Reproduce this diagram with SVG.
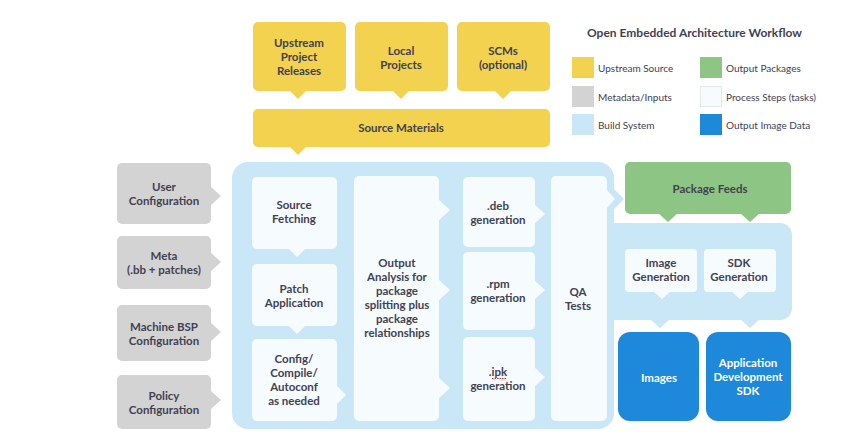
<svg xmlns="http://www.w3.org/2000/svg" width="858" height="446" viewBox="0 0 858 446">
<style>
text{font-family:Lato,"Open Sans","Liberation Sans",sans-serif;font-weight:700;font-size:11.5px;fill:#424152;text-anchor:middle}
.leg{font-size:10px;font-weight:400;text-anchor:start}
.ttl{font-size:12px;text-anchor:start}
.wt{fill:#ffffff}
.y{fill:#F2D24E}
.g{fill:#D3D3D3}
.lb{fill:#CAE7F7}
.w{fill:#F6FBFE}
.gr{fill:#8DC684}
.b{fill:#1E88DB}
</style>
<rect width="858" height="446" fill="#ffffff"/>

<g id="legend">
<text class="ttl" x="587" y="37">Open Embedded Architecture Workflow</text>
<rect class="y" x="572" y="57" width="22" height="21"/>
<rect class="g" x="572" y="86" width="22" height="21"/>
<rect class="lb" x="572" y="114" width="22" height="21"/>
<rect class="gr" x="700" y="57" width="22" height="21"/>
<rect class="w" x="700.5" y="86.5" width="21" height="20" stroke="#E3E8EB" stroke-width="1"/>
<rect class="b" x="700" y="114" width="22" height="21"/>
<text class="leg" x="598" y="72">Upstream Source</text>
<text class="leg" x="598" y="101">Metadata/Inputs</text>
<text class="leg" x="598" y="129">Build System</text>
<text class="leg" x="726" y="72">Output Packages</text>
<text class="leg" x="726" y="101">Process Steps (tasks)</text>
<text class="leg" x="726" y="129">Output Image Data</text>
</g>

<g id="build-system">
<rect class="lb" x="232" y="162" width="382" height="267" rx="16"/>
<rect class="lb" x="598" y="223" width="194" height="97" rx="12"/>
</g>

<g id="upstream-releases">
<rect class="y" x="253" y="22" width="93" height="69" rx="5"/>
<text x="299" y="47">Upstream</text><text x="299" y="61">Project</text><text x="299" y="75">Releases</text>
</g>
<g id="local-projects">
<rect class="y" x="355" y="22" width="93" height="69" rx="5"/>
<text x="401" y="55">Local</text><text x="401" y="69">Projects</text>
</g>
<g id="scms">
<rect class="y" x="457" y="22" width="93" height="69" rx="5"/>
<text x="503" y="55">SCMs</text><text x="503" y="69">(optional)</text>
</g>
<g id="source-materials">
<rect class="y" x="253" y="109" width="297" height="38" rx="5"/>
<text x="401" y="132">Source Materials</text>
</g>

<g id="user-config">
<rect class="g" x="117" y="163" width="94" height="61" rx="5"/>
<text x="164" y="191">User</text><text x="164" y="205">Configuration</text>
</g>
<g id="meta">
<rect class="g" x="117" y="236" width="94" height="53" rx="5"/>
<text x="164" y="260">Meta</text><text x="164" y="274">(.bb + patches)</text>
</g>
<g id="machine-bsp">
<rect class="g" x="117" y="305" width="94" height="56" rx="5"/>
<text x="164" y="331">Machine BSP</text><text x="164" y="345">Configuration</text>
</g>
<g id="policy-config">
<rect class="g" x="117" y="375" width="94" height="54" rx="5"/>
<text x="164" y="400">Policy</text><text x="164" y="414">Configuration</text>
</g>

<g id="connectors">
<polygon class="y" points="289,90 307,90 298,99"/>
<polygon class="y" points="392,90 410,90 401,99"/>
<polygon class="y" points="494,90 512,90 503,99"/>
<polygon class="y" points="289,146 307,146 298,155"/>
<polygon class="g" points="210,186 210,206 221,196"/>
<polygon class="g" points="210,252 210,272 221,262"/>
<polygon class="g" points="210,322 210,342 221,332"/>
<polygon class="g" points="210,390 210,410 221,400"/>
<polygon class="lb" points="613,188 613,210 624,199"/>
<polygon class="gr" points="658,213 678,213 668,222"/>
<polygon class="gr" points="740,213 760,213 750,222"/>
<polygon class="lb" points="650,319 670,319 660,328"/>
<polygon class="lb" points="740,319 760,319 750,328"/>
</g>

<g id="source-fetching">
<rect class="w" x="252" y="177" width="85" height="72" rx="5"/>
<polygon class="w" points="288,248 306,248 297,257"/>
<text x="294" y="209">Source</text><text x="294" y="223">Fetching</text>
</g>
<g id="patch-application">
<rect class="w" x="252" y="264" width="85" height="62" rx="5"/>
<polygon class="w" points="288,325 306,325 297,334"/>
<text x="294" y="293">Patch</text><text x="294" y="307">Application</text>
</g>
<g id="config-compile">
<rect class="w" x="252" y="339" width="85" height="82" rx="5"/>
<polygon class="w" points="336,385 336,405 346,395"/>
<text x="294" y="363">Config/</text><text x="294" y="377">Compile/</text><text x="294" y="391">Autoconf</text><text x="294" y="405">as needed</text>
</g>
<g id="output-analysis">
<rect class="w" x="354" y="176" width="85" height="245" rx="5"/>
<polygon class="w" points="438,199 438,221 450,210"/>
<polygon class="w" points="438,279 438,301 450,290"/>
<polygon class="w" points="438,377 438,399 450,388"/>
<text x="397" y="267">Output</text><text x="397" y="281">Analysis for</text><text x="397" y="295">package</text><text x="397" y="309">splitting plus</text><text x="397" y="323">package</text><text x="397" y="337">relationships</text>
</g>
<g id="deb-generation">
<rect class="w" x="463" y="177" width="72" height="70" rx="5"/>
<polygon class="w" points="534,204 534,224 545,214"/>
<text x="498" y="210">.deb</text><text x="498" y="224">generation</text>
</g>
<g id="rpm-generation">
<rect class="w" x="463" y="252" width="72" height="78" rx="5"/>
<polygon class="w" points="534,280 534,300 545,290"/>
<text x="498" y="288">.rpm</text><text x="498" y="302">generation</text>
</g>
<g id="ipk-generation">
<rect class="w" x="463" y="337" width="72" height="84" rx="5"/>
<polygon class="w" points="534,367 534,387 545,377"/>
<text x="498" y="376">.ipk</text><text x="498" y="390">generation</text>
<line x1="492" y1="378.5" x2="506" y2="378.5" stroke="#E0302B" stroke-width="1" stroke-dasharray="1.5 1"/>
</g>
<g id="qa-tests">
<rect class="w" x="551" y="176" width="56" height="245" rx="5"/>
<polygon class="w" points="606,189 606,209 615,199"/>
<text x="578" y="296">QA</text><text x="578" y="310">Tests</text>
</g>

<g id="package-feeds">
<rect class="gr" x="625" y="162" width="166" height="52" rx="5"/>
<text x="710" y="193">Package Feeds</text>
</g>
<g id="image-generation">
<rect class="w" x="625" y="249" width="72" height="43" rx="4"/>
<polygon class="w" points="653,291 671,291 662,299"/>
<text x="661" y="267">Image</text><text x="661" y="281">Generation</text>
</g>
<g id="sdk-generation">
<rect class="w" x="704" y="249" width="72" height="43" rx="4"/>
<polygon class="w" points="731,291 749,291 740,299"/>
<text x="739" y="267">SDK</text><text x="739" y="281">Generation</text>
</g>
<g id="images">
<rect class="b" x="618" y="332" width="81" height="89" rx="12"/>
<text class="wt" x="659" y="382">Images</text>
</g>
<g id="app-sdk">
<rect class="b" x="706" y="332" width="85" height="89" rx="12"/>
<text class="wt" x="748" y="367">Application</text><text class="wt" x="748" y="381">Development</text><text class="wt" x="748" y="395">SDK</text>
</g>
</svg>
